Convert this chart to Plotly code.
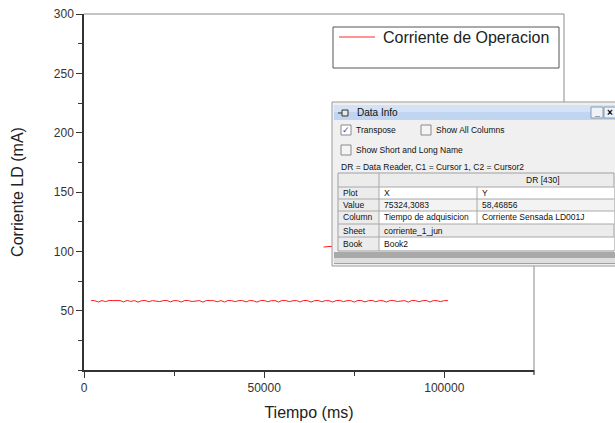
import plotly.graph_objects as go

# Measured laser-diode current over time (ms, mA)
tiempo_ms = [
    2000, 3000, 4000, 5000, 6000, 7000, 8000, 9000, 10000, 11000,
    12000, 13000, 14000, 15000, 16000, 17000, 18000, 19000, 20000, 21000,
    22000, 23000, 24000, 25000, 26000, 27000, 28000, 29000, 30000, 31000,
    32000, 33000, 34000, 35000, 36000, 37000, 38000, 39000, 40000, 41000,
    42000, 43000, 44000, 45000, 46000, 47000, 48000, 49000, 50000, 51000,
    52000, 53000, 54000, 55000, 56000, 57000, 58000, 59000, 60000, 61000,
    62000, 63000, 64000, 65000, 66000, 67000, 68000, 69000, 70000, 71000,
    72000, 73000, 74000, 75000, 76000, 77000, 78000, 79000, 80000, 81000,
    82000, 83000, 84000, 85000, 86000, 87000, 88000, 89000, 90000, 91000,
    92000, 93000, 94000, 95000, 96000, 97000, 98000, 99000, 100000, 101000,
]
corriente_ma = [
    58.6, 58.4, 57.3, 58.5, 57.6, 58.6, 58.5, 58.4, 58.5, 57.4,
    58.6, 57.8, 58.5, 57.2, 58.4, 58.6, 57.5, 58.5, 58.3, 57.6,
    58.5, 58.6, 57.4, 58.5, 58.4, 57.3, 58.6, 58.5, 57.7, 58.4,
    58.5, 57.2, 58.6, 58.5, 58.4, 57.5, 58.5, 57.3, 58.6, 58.4,
    57.6, 58.5, 58.5, 57.4, 58.6, 58.3, 57.2, 58.5, 58.6, 57.5,
    58.4, 58.5, 57.3, 58.6, 58.5, 57.6, 58.4, 58.5, 57.4, 58.6,
    58.5, 57.2, 58.4, 58.6, 57.5, 58.5, 58.4, 57.3, 58.5, 58.6,
    57.6, 58.4, 58.5, 57.2, 58.6, 58.5, 57.4, 58.4, 58.6, 57.5,
    58.5, 58.3, 57.3, 58.6, 58.5, 57.7, 58.4, 58.5, 57.2, 58.6,
    58.5, 57.5, 58.4, 58.6, 57.3, 58.5, 58.4, 57.6, 58.5, 58.5,
]
# Second, higher operating level (partly behind the Data Info panel)
tiempo_ms_alto = [66500, 68000, 75000]
corriente_ma_alto = [103.6, 104.1, 103.9]

x_ticks = [0, 50000, 100000]
y_ticks = [50, 100, 150, 200, 250, 300]
legend_label = "Corriente de Operacion"

# Data Info panel contents
panel_title = "Data Info"
panel_checks = ["Transpose", "Show All Columns", "Show Short and Long Name"]
panel_caption = "DR = Data Reader, C1 = Cursor 1, C2 = Cursor2"
panel_header = "DR [430]"
panel_rows = ["Plot", "Value", "Column", "Sheet", "Book"]
panel_x = ["X", "75324,3083", "Tiempo de adquisicion"]
panel_y = ["Y", "58,46856", "Corriente Sensada LD001J"]
panel_sheet = "corriente_1_jun"
panel_book = "Book2"

W, H = 615, 423
L, R, T, B = 84, 534, 14, 370


def px(x):
    return (x - L) / (R - L)


def py(y):
    return (B - y) / (B - T)


shapes = []
annotations = []


def rect(x0, y0, x1, y1, fill=None, line=None, lw=1):
    shapes.append(dict(type="rect", xref="paper", yref="paper",
                       x0=px(x0), x1=px(x1), y0=py(y1), y1=py(y0),
                       fillcolor=fill if fill else "rgba(0,0,0,0)",
                       line=dict(color=line if line else "rgba(0,0,0,0)", width=lw if line else 0),
                       layer="above"))


def seg(x0, y0, x1, y1, color, lw=1):
    shapes.append(dict(type="line", xref="paper", yref="paper",
                       x0=px(x0), x1=px(x1), y0=py(y0), y1=py(y1),
                       line=dict(color=color, width=lw), layer="above"))


def text(x, y, s, size=8.5, color="#111", anchor="left", family="Liberation Sans"):
    annotations.append(dict(x=px(x), y=py(y), xref="paper", yref="paper",
                            text=s, showarrow=False, xanchor=anchor, yanchor="middle",
                            font=dict(family=family, size=size, color=color)))


# Frame pieces (top/right) and the end tick of the time axis
seg(84, 14, 564, 14, "#8a8a8a", 1)
seg(564, 14, 564, 102, "#8a8a8a", 1)
seg(534, 266, 534, 370, "#8a8a8a", 1)
seg(534, 370, 534, 375, "#333333", 1.2)

# Legend box
rect(333, 27, 559, 68, fill="white", line="#555555", lw=1)
seg(339, 37, 375, 37, "#ff7070", 1.5)
text(381, 37.5, legend_label, size=16, color="#222222")

# Data Info panel
rect(332, 102, 617, 266, fill="#f0f0f0", line="#9a9a9a", lw=1)
rect(334, 105, 617, 112, fill="#d3e3f5")
rect(334, 112, 617, 120, fill="#c0d5ef")
seg(338, 113, 342, 113, "#333333", 1)
rect(342, 110, 348, 116, fill="#e8e8e8", line="#333333", lw=1)
text(355, 113, panel_title, size=10, color="#111111")
rect(591, 107, 603, 118, fill="#eef3fa", line="#8a9ab0", lw=1)
rect(604, 107, 616, 118, fill="#eef3fa", line="#8a9ab0", lw=1)
text(597, 113, "<b>_</b>", size=9, color="#000", anchor="center")
text(610, 113, "<b>×</b>", size=10, color="#000", anchor="center")

# Check boxes
rect(341, 125, 351, 135, fill="white", line="#8a8a8a", lw=1)
text(346, 130, "✓", size=9, color="#2a4fa8", anchor="center", family="DejaVu Sans")
text(354, 130, panel_checks[0])
rect(421, 125, 431, 135, fill="#f4f4f4", line="#8a8a8a", lw=1)
text(434, 130, panel_checks[1])
rect(341, 145, 351, 155, fill="#f4f4f4", line="#8a8a8a", lw=1)
text(354, 150, panel_checks[2])
text(339, 167, panel_caption)

# Table
row_edges = [173, 187, 199, 211, 224, 237, 250]
rect(338, 173, 614, 251, fill="#ececec", line="#a0a0a0", lw=1)
rect(379, 187, 614, 199, fill="white")
rect(379, 211, 614, 224, fill="white")
rect(379, 237, 614, 250, fill="white")
rect(379, 199, 614, 211, fill="#f3f3f3")
for ye in row_edges[1:-1]:
    seg(338, ye, 614, ye, "#a8a8a8", 1)
seg(379, 173, 379, 251, "#a8a8a8", 1)
seg(477, 187, 477, 224, "#a8a8a8", 1)
text(543, 180, panel_header, anchor="center")
for i, lab in enumerate(panel_rows):
    yc = (row_edges[i + 1] + row_edges[i + 2]) / 2
    text(341, yc, lab)
for i in range(3):
    yc = (row_edges[i + 1] + row_edges[i + 2]) / 2
    text(382, yc, panel_x[i])
    text(480, yc, panel_y[i])
text(382, (row_edges[4] + row_edges[5]) / 2, panel_sheet)
text(382, (row_edges[5] + row_edges[6]) / 2, panel_book)

# Status strip at the bottom of the panel
rect(334, 252, 617, 258, fill="#a9a9a9")
rect(334, 258, 617, 263, fill="#dedede")
seg(334, 263.5, 617, 263.5, "#a0a0a0", 1)

fig = go.Figure()
fig.add_trace(go.Scatter(x=tiempo_ms, y=corriente_ma, mode="lines",
                         line=dict(color="#ff1a1a", width=1), name=legend_label,
                         showlegend=False))
fig.add_trace(go.Scatter(x=tiempo_ms_alto, y=corriente_ma_alto, mode="lines",
                         line=dict(color="#ff1a1a", width=1), showlegend=False))

tick_font = dict(family="Liberation Sans", size=12, color="#333333")
title_font = dict(family="Liberation Sans", size=16, color="#222222")

fig.update_layout(
    width=W, height=H,
    margin=dict(l=L, r=W - R, t=T, b=H - B, pad=0),
    paper_bgcolor="white", plot_bgcolor="white",
    showlegend=False,
    shapes=shapes, annotations=annotations,
    xaxis=dict(range=[0, 124900], tickvals=x_ticks, ticktext=[str(v) for v in x_ticks],
               showgrid=False, zeroline=False, showline=True, linecolor="#333333", linewidth=1.5,
               ticks="outside", ticklen=6, tickwidth=1.2, tickcolor="#333333",
               minor=dict(ticks="outside", ticklen=4, tick0=0, dtick=25000,
                          tickcolor="#333333", showgrid=False),
               tickfont=tick_font, automargin=False,
               title=dict(text="Tiempo (ms)", font=title_font, standoff=13)),
    yaxis=dict(range=[0, 300], tickvals=y_ticks, ticktext=[str(v) for v in y_ticks],
               showgrid=False, zeroline=False, showline=True, linecolor="#333333", linewidth=1.5,
               ticks="outside", ticklen=6, tickwidth=1.2, tickcolor="#333333",
               minor=dict(ticks="outside", ticklen=4, tick0=0, dtick=25,
                          tickcolor="#333333", showgrid=False),
               tickfont=tick_font, automargin=False,
               title=dict(text="Corriente LD (mA)", font=title_font, standoff=26)),
)

fig.write_html("out.html")
